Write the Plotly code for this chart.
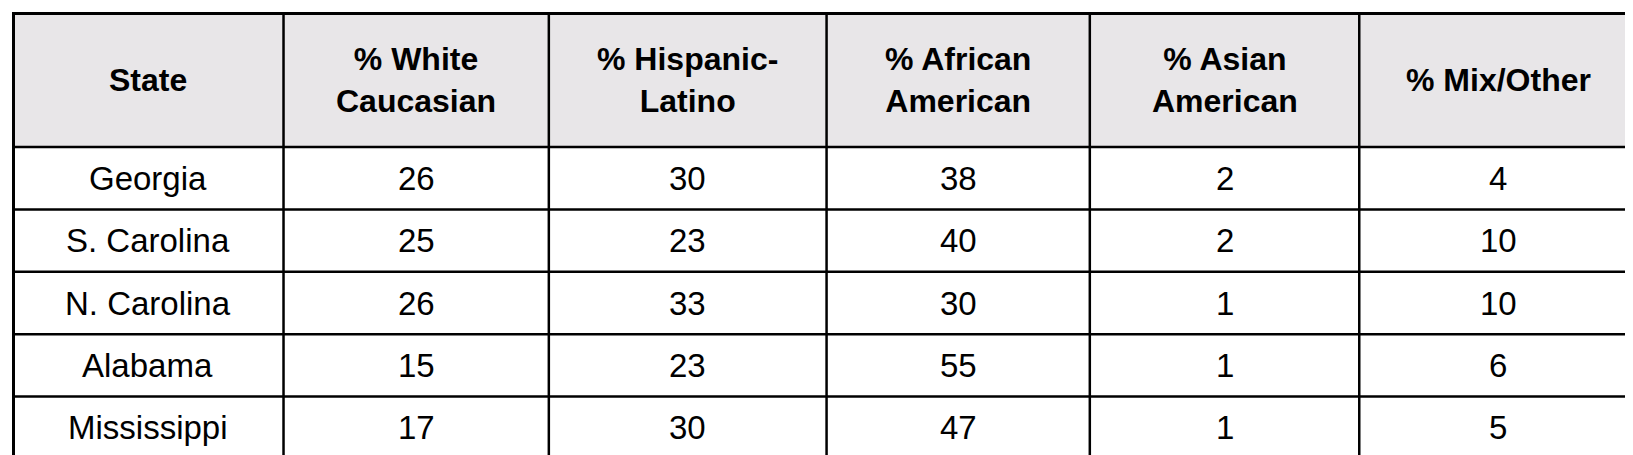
import plotly.graph_objects as go

headers = ["State", "% White<br>Caucasian", "% Hispanic-<br>Latino", "% African<br>American", "% Asian<br>American", "% Mix/Other"]
states = ["Georgia", "S. Carolina", "N. Carolina", "Alabama", "Mississippi"]
white = [26, 25, 26, 15, 17]
hispanic = [30, 23, 33, 23, 30]
african = [38, 40, 30, 55, 47]
asian = [2, 2, 1, 1, 1]
mix = [4, 10, 10, 6, 5]

columns = [states, white, hispanic, african, asian, mix]
col_edges = [0, 262, 518, 786, 1040, 1300, 1568]
header_h = 132
row_h = (437 - header_h) / len(states)
font = "Liberation Sans, Arial"

fig = go.Figure()
shapes = []
annotations = []
# header background
shapes.append(dict(type="rect", x0=0, x1=1568, y0=0, y1=header_h, fillcolor="#e8e6e8",
                   line=dict(width=0), layer="below"))
# grid lines
for x in col_edges[1:-1]:
    shapes.append(dict(type="line", x0=x, x1=x, y0=0, y1=437, line=dict(color="black", width=2.5)))
for i in range(len(states)):
    y = header_h + i * row_h
    shapes.append(dict(type="line", x0=0, x1=1568, y0=y, y1=y, line=dict(color="black", width=2.5)))
shapes.append(dict(type="rect", x0=0, x1=1568, y0=0, y1=437, line=dict(color="black", width=6)))

for c, h in enumerate(headers):
    xc = (col_edges[c] + col_edges[c + 1]) / 2
    annotations.append(dict(x=xc, y=header_h / 2, text=f"<b>{h}</b>", showarrow=False,
                            font=dict(family=font, size=32, color="black"), xanchor="center", yanchor="middle"))
    for r, v in enumerate(columns[c]):
        annotations.append(dict(x=xc, y=header_h + (r + 0.5) * row_h, text=str(v), showarrow=False,
                                font=dict(family=font, size=33, color="black"), xanchor="center", yanchor="middle"))

fig.update_layout(width=1633, height=455, margin=dict(l=4, r=4, t=4, b=4),
                  paper_bgcolor="white", plot_bgcolor="white",
                  shapes=shapes, annotations=annotations,
                  xaxis=dict(range=[0, 1568], visible=False, fixedrange=True),
                  yaxis=dict(range=[437, 0], visible=False, fixedrange=True),
                  showlegend=False)
fig.write_html("out.html")
